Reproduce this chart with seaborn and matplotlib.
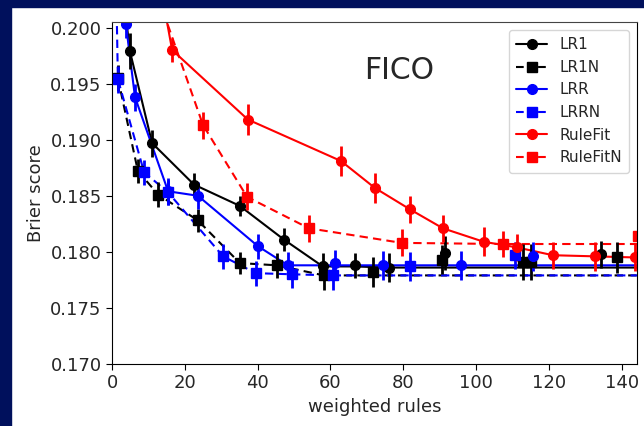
import numpy as np
import pandas as pd
import seaborn as sns
import matplotlib
matplotlib.use("Agg")
import matplotlib.pyplot as plt
from matplotlib.lines import Line2D
from matplotlib.patches import Rectangle

# data (weighted rules vs Brier score)
lr1_x = [2.0, 4.9, 11.0, 22.5, 35.1, 47.2, 57.9, 66.7, 76.0, 91.4, 134.2]
lr1_y = [0.2060, 0.1979, 0.1897, 0.1860, 0.1841, 0.1811, 0.1787, 0.1788, 0.1786, 0.1799, 0.1798]
lr1_e = [0.0015, 0.0016, 0.0012, 0.0010, 0.0009, 0.0010, 0.0012, 0.0011, 0.0013, 0.0015, 0.0012]

lr1n_x = [1.6, 7.1, 12.7, 23.6, 35.1, 45.3, 58.2, 71.6, 90.6, 112.8, 115.0, 138.6]
lr1n_y = [0.1955, 0.1872, 0.1851, 0.1828, 0.1790, 0.1788, 0.1779, 0.1782, 0.1793, 0.1791, 0.1791, 0.1795]
lr1n_e = [0.0012, 0.0011, 0.0011, 0.0010, 0.0010, 0.0011, 0.0013, 0.0013, 0.0013, 0.0016, 0.0016, 0.0014]

lrr_x = [3.8, 6.3, 15.4, 23.6, 40.1, 48.3, 61.2, 74.4, 96.0, 115.6]
lrr_y = [0.2003, 0.1938, 0.1854, 0.1850, 0.1805, 0.1788, 0.1790, 0.1788, 0.1788, 0.1796]
lrr_e = [0.0012, 0.0012, 0.0012, 0.0012, 0.0011, 0.0012, 0.0012, 0.0013, 0.0013, 0.0013]

lrrn_x = [0.8, 1.6, 8.8, 15.4, 30.5, 39.5, 49.4, 60.7, 81.8, 110.6]
lrrn_y = [0.2100, 0.1954, 0.1871, 0.1853, 0.1796, 0.1781, 0.1780, 0.1779, 0.1787, 0.1797]
lrrn_e = [0.0012, 0.0012, 0.0011, 0.0011, 0.0011, 0.0011, 0.0012, 0.0013, 0.0013, 0.0012]

rf_x = [12.0, 16.5, 37.3, 62.9, 72.2, 81.8, 90.9, 102.1, 111.2, 121.1, 132.6, 143.8]
rf_y = [0.2060, 0.1980, 0.1918, 0.1881, 0.1857, 0.1838, 0.1821, 0.1809, 0.1804, 0.1797, 0.1796, 0.1795]
rf_e = [0.0012, 0.0011, 0.0014, 0.0013, 0.0013, 0.0012, 0.0012, 0.0013, 0.0012, 0.0012, 0.0013, 0.0012]

rfn_x = [8.0, 25.0, 37.1, 54.1, 79.6, 107.3, 144.6]
rfn_y = [0.2070, 0.1913, 0.1849, 0.1821, 0.1808, 0.1807, 0.1814]
rfn_e = [0.0012, 0.0012, 0.0012, 0.0012, 0.0012, 0.0012, 0.0012]

names = ["LR1", "LR1N", "LRR", "LRRN", "RuleFit", "RuleFitN"]
xs = [lr1_x, lr1n_x, lrr_x, lrrn_x, rf_x, rfn_x]
ys = [lr1_y, lr1n_y, lrr_y, lrrn_y, rf_y, rfn_y]
es = [lr1_e, lr1n_e, lrr_e, lrrn_e, rf_e, rfn_e]
colors = {"LR1": "k", "LR1N": "k", "LRR": "b", "LRRN": "b", "RuleFit": "r", "RuleFitN": "r"}
marks = {"LR1": "o", "LR1N": "s", "LRR": "o", "LRRN": "s", "RuleFit": "o", "RuleFitN": "s"}
dashes = {"LR1": "", "LR1N": (4, 2.5), "LRR": "", "LRRN": (4, 2.5), "RuleFit": "", "RuleFitN": (4, 2.5)}
x_end = 160

# frontier lines: best score so far, carried to the right edge
rows = []
for n, x, y in zip(names, xs, ys):
    best = np.minimum.accumulate(y)
    for xi, yi in zip(x, best):
        rows.append((n, xi, yi))
    rows.append((n, x_end, best[-1]))
lines = pd.DataFrame(rows, columns=["method", "x", "y"])

sns.set_style("ticks")
plt.rcParams['font.family'] = ['DejaVu Sans']
fig = plt.figure(figsize=(6.44, 4.26), dpi=100)
ax = fig.add_axes([0.174, 0.1455, 0.815, 0.803])

sns.lineplot(data=lines, x="x", y="y", hue="method", style="method", palette=colors,
             dashes=dashes, sort=False, estimator=None, legend=False, lw=1.5, ax=ax)
for n, x, y, e in zip(names, xs, ys, es):
    ax.errorbar(x, y, yerr=e, fmt=marks[n], color=colors[n], ms=7 if marks[n] == "o" else 7.5,
                elinewidth=2, capsize=0, linestyle="none")

ax.set_xlim(0, 144.2)
ax.set_ylim(0.170, 0.2005)
ax.set_xticks(np.arange(0, 141, 20))
ax.set_yticks(np.arange(0.170, 0.2001, 0.005))
ax.yaxis.set_major_formatter(matplotlib.ticker.FormatStrFormatter('%.3f'))
ax.tick_params(labelsize=13, length=4, color="k")
for s in ax.spines.values():
    s.set_color("k")
ax.spines["top"].set_color("#444444")
ax.set_xlabel("weighted rules", fontsize=13)
ax.set_ylabel("Brier score", fontsize=13)
ax.text(0.547, 0.857, "FICO", transform=ax.transAxes, fontsize=21.5, ha="center", va="center")

handles = [Line2D([], [], color=colors[n], marker=marks[n], ls="-" if dashes[n] == "" else "--",
                  lw=1.5, ms=7) for n in names]
leg = ax.legend(handles, names, loc="upper right", fontsize=11, frameon=True, fancybox=True,
                borderpad=0.5)
leg.get_frame().set_edgecolor("0.8")
leg.get_frame().set_linewidth(1.0)

navy = "#00105c"
fig.add_artist(Rectangle((0, 0), 11 / 644, 1, transform=fig.transFigure, color=navy, zorder=10))
fig.add_artist(Rectangle((0, 1 - 7 / 426), 1, 7 / 426, transform=fig.transFigure, color=navy, zorder=10))

fig.savefig("out.png", dpi=100, facecolor="white")
